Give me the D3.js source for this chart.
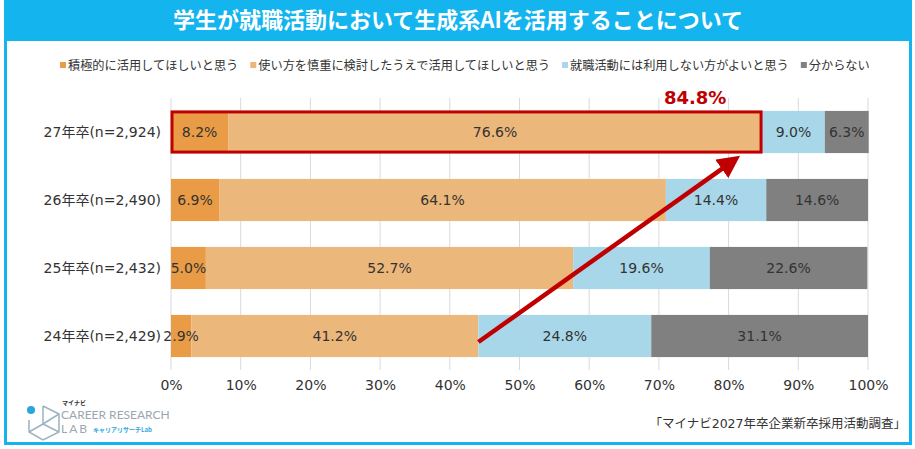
<!DOCTYPE html>
<html>
<head>
<meta charset="utf-8">
<script src="https://cdn.jsdelivr.net/npm/d3@7"></script>
<style>
  body { margin: 0; background: #fff; }
  svg { display: block; font-family: "DejaVu Sans", "Noto Sans CJK JP", sans-serif; }
</style>
</head>
<body>
<svg id="chart"></svg>
<script>
let width = 915;
let height = 449;

// data
const categories = ["27年卒(n=2,924)", "26年卒(n=2,490)", "25年卒(n=2,432)", "24年卒(n=2,429)"];
const seriesNames = ["積極的に活用してほしいと思う", "使い方を慎重に検討したうえで活用してほしいと思う", "就職活動には利用しない方がよいと思う", "分からない"];
const activeUse = [8.2, 6.9, 5.0, 2.9];
const carefulUse = [76.6, 64.1, 52.7, 41.2];
const notUse = [9.0, 14.4, 19.6, 24.8];
const dontKnow = [6.3, 14.6, 22.6, 31.1];
const xTicks = [0, 10, 20, 30, 40, 50, 60, 70, 80, 90, 100];
const highlightTotal = 84.8;

const colors = ["#e99c45", "#ecb77b", "#a9d7ea", "#808080"];
const frameBlue = "#14b4ef";
const darkRed = "#c00000";
const jp = "'Noto Sans CJK JP', sans-serif";

let svg = d3.select("#chart")
  .attr("width", width)
  .attr("height", height);

// frame + title bar
svg.append("rect")
  .attr("x", 5.5).attr("y", 1.5)
  .attr("width", 905).attr("height", 442)
  .attr("fill", "#fff")
  .attr("stroke", frameBlue)
  .attr("stroke-width", 3);

svg.append("rect")
  .attr("x", 4).attr("y", 0)
  .attr("width", 908).attr("height", 41)
  .attr("fill", frameBlue);

svg.append("text")
  .attr("x", 458).attr("y", 28)
  .attr("text-anchor", "middle")
  .attr("fill", "#fff")
  .attr("font-size", 22)
  .attr("font-weight", "bold")
  .attr("font-family", jp)
  .text("学生が就職活動において生成系AIを活用することについて");

// scales
let x = d3.scaleLinear().domain([0, 100]).range([171, 868]);
let y = d3.scaleBand().domain(categories).range([98, 370]).paddingInner(0.38).paddingOuter(0.19);

// grid
svg.append("g")
  .selectAll("line")
  .data(xTicks)
  .enter()
  .append("line")
    .attr("x1", d => x(d)).attr("x2", d => x(d))
    .attr("y1", 98).attr("y2", 370)
    .attr("stroke", "#d9d9d9")
    .attr("stroke-width", 1);

// stacked bars
let rows = categories.map((c, i) => ({
  cat: c, values: [activeUse[i], carefulUse[i], notUse[i], dontKnow[i]]
}));
let segs = [];
rows.forEach(r => {
  let acc = 0;
  r.values.forEach((v, k) => {
    segs.push({ cat: r.cat, k: k, x0: acc, x1: acc + v, v: v });
    acc += v;
  });
});

svg.append("g")
  .selectAll("rect")
  .data(segs)
  .enter()
  .append("rect")
    .attr("x", d => x(d.x0))
    .attr("y", d => y(d.cat))
    .attr("width", d => x(d.x1) - x(d.x0))
    .attr("height", y.bandwidth())
    .attr("fill", d => colors[d.k]);

svg.append("g")
  .selectAll("text")
  .data(segs)
  .enter()
  .append("text")
    .attr("x", d => x((d.x0 + d.x1) / 2))
    .attr("y", d => y(d.cat) + y.bandwidth() / 2 + 5)
    .attr("text-anchor", "middle")
    .attr("font-size", 14)
    .attr("fill", "#333")
    .text(d => d.v.toFixed(1) + "%");

// x axis
let xAxis = g => g
  .attr("transform", `translate(0,370)`)
  .call(d3.axisBottom(x).tickValues(xTicks).tickFormat(d => d + "%").tickSize(0).tickPadding(10))
  .call(g => g.select(".domain").remove())
  .call(g => g.selectAll("text")
    .attr("font-size", 14)
    .attr("fill", "#333")
    .attr("font-family", "'DejaVu Sans', sans-serif"));
svg.append("g").call(xAxis);

// category labels
svg.append("g")
  .selectAll("text")
  .data(categories)
  .enter()
  .append("text")
    .attr("x", 161)
    .attr("y", d => y(d) + y.bandwidth() / 2 + 5)
    .attr("text-anchor", "end")
    .attr("font-size", 14)
    .attr("fill", "#333")
    .text(d => d);

// highlight box around 27年卒 first two segments
svg.append("rect")
  .attr("x", x(0) + 1)
  .attr("y", y(categories[0]) + 1)
  .attr("width", x(highlightTotal) - x(0) - 2)
  .attr("height", y.bandwidth() - 2)
  .attr("fill", "none")
  .attr("stroke", darkRed)
  .attr("stroke-width", 3);

svg.append("text")
  .attr("x", x(75.2))
  .attr("y", 104)
  .attr("text-anchor", "middle")
  .attr("font-size", 18)
  .attr("font-weight", "bold")
  .attr("fill", darkRed)
  .text(highlightTotal.toFixed(1) + "%");

// arrow
let defs = svg.append("defs");
defs.append("marker")
  .attr("id", "arrowhead")
  .attr("viewBox", "0 0 10 10")
  .attr("refX", 6).attr("refY", 5)
  .attr("markerWidth", 5).attr("markerHeight", 5)
  .attr("orient", "auto")
  .append("path")
    .attr("d", "M0,0L10,5L0,10z")
    .attr("fill", darkRed);

let arrowStart = [activeUse[3] + carefulUse[3], y(categories[3]) + y.bandwidth() / 2 + 6];
let arrowEnd = [80.6, y(categories[0]) + y.bandwidth() + 8];
svg.append("line")
  .attr("x1", x(arrowStart[0])).attr("y1", arrowStart[1])
  .attr("x2", x(arrowEnd[0])).attr("y2", arrowEnd[1])
  .attr("stroke", darkRed)
  .attr("stroke-width", 4.5)
  .attr("marker-end", "url(#arrowhead)");

// legend
let legend = svg.append("g").attr("transform", "translate(60,70)");
let lx = 0;
seriesNames.forEach((name, i) => {
  let g = legend.append("g").attr("transform", `translate(${lx},0)`);
  g.append("rect").attr("x", 0).attr("y", -8).attr("width", 6).attr("height", 6).attr("fill", colors[i]);
  let t = g.append("text").attr("x", 8).attr("y", 0)
    .attr("font-size", 12.2).attr("font-family", jp).attr("fill", "#333").text(name);
  lx += 8 + t.node().getComputedTextLength() + 12;
});

// footnote
svg.append("text")
  .attr("x", 906).attr("y", 428)
  .attr("text-anchor", "end")
  .attr("font-size", 12.5)
  .attr("fill", "#333")
  .text("「マイナビ2027年卒企業新卒採用活動調査」");

// logo
let logo = svg.append("g").attr("transform", "translate(25,400)");
logo.append("path")
  .attr("d", "M18,6 L34,14 L34,32 L18,40 L4,32 L4,20 M18,6 L18,24 L34,32 M18,24 L4,32 M18,24 L34,14")
  .attr("fill", "none").attr("stroke", "#9bb3c2").attr("stroke-width", 1.5);
logo.append("circle").attr("cx", 6).attr("cy", 10).attr("r", 4).attr("fill", "#2ba6dc");
logo.append("text").attr("x", 37).attr("y", 5).attr("font-size", 6).attr("font-weight", "bold")
  .attr("font-family", jp).attr("fill", "#333").text("マイナビ");
logo.append("text").attr("x", 36).attr("y", 19).attr("font-size", 12).attr("fill", "#9aa7b0")
  .attr("font-family", "Lato, sans-serif").text("CAREER RESEARCH");
logo.append("text").attr("x", 36).attr("y", 33).attr("font-size", 12).attr("fill", "#9aa7b0")
  .attr("font-family", "Lato, sans-serif").attr("letter-spacing", 2).text("LAB");
logo.append("text").attr("x", 68).attr("y", 32).attr("font-size", 6).attr("font-weight", "bold")
  .attr("font-family", jp).attr("fill", "#2ba6dc").text("キャリアリサーチLab");
</script>
</body>
</html>
